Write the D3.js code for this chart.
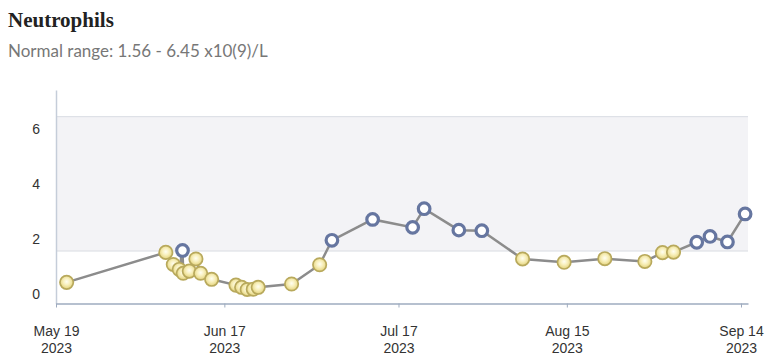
<!DOCTYPE html>
<html>
<head>
<meta charset="utf-8">
<script src="https://cdn.jsdelivr.net/npm/d3@7"></script>
<style>
  body { margin: 0; background: #fff; }
  svg { display: block; }
</style>
</head>
<body>
<script>
// Lab results
var dates = ["2023-05-20T20:00", "2023-06-06T22:00", "2023-06-08T05:00", "2023-06-09T05:30",
    "2023-06-09T19:00", "2023-06-09T22:00", "2023-06-10T23:00", "2023-06-12T02:30",
    "2023-06-12T22:00", "2023-06-14T19:30", "2023-06-19T00:00", "2023-06-19T23:30",
    "2023-06-20T22:30", "2023-06-21T23:30", "2023-06-22T20:00", "2023-06-28T14:00",
    "2023-07-03T10:00", "2023-07-05T12:45", "2023-07-12T13:00", "2023-07-19T10:30",
    "2023-07-21T10:00", "2023-07-27T09:30", "2023-07-31T08:30", "2023-08-07T09:00",
    "2023-08-14T12:45", "2023-08-21T13:00", "2023-08-28T10:30", "2023-08-31T11:30",
    "2023-09-02T09:00", "2023-09-06T09:00", "2023-09-08T16:00", "2023-09-11T16:00",
    "2023-09-14T17:00"];
var values = [0.42, 1.51, 1.07, 0.89, 1.58, 0.75, 0.83, 1.27, 0.75, 0.53, 0.32, 0.24, 0.16, 0.17,
    0.24, 0.36, 1.06, 1.95, 2.71, 2.42, 3.10, 2.32, 2.30, 1.27, 1.15, 1.28, 1.18, 1.50, 1.52,
    1.88, 2.09, 1.89, 2.91];
var normalRange = [1.56, 6.45];
var xTicks = ["2023-05-19", "2023-06-17", "2023-07-17", "2023-08-15", "2023-09-14"];
var yTicks = [0, 2, 4, 6];

var width = 768, height = 364;
var parse = d3.timeParse("%Y-%m-%dT%H:%M");
var parseDay = d3.timeParse("%Y-%m-%d");

var data = dates.map(function (d, i) { return { date: parse(d), value: values[i] }; });

var svg = d3.select("body").append("svg")
    .attr("width", width)
    .attr("height", height);

// Title + subtitle
svg.append("text")
    .attr("x", 8).attr("y", 27)
    .attr("font-family", "Liberation Serif, serif")
    .attr("font-weight", "bold")
    .attr("font-size", "21px")
    .attr("fill", "#222")
    .text("Neutrophils");

svg.append("text")
    .attr("x", 8).attr("y", 57)
    .attr("font-family", "Lato, sans-serif")
    .attr("font-size", "17px")
    .attr("fill", "#777")
    .text("Normal range: " + normalRange[0] + " - " + normalRange[1] + " x10(9)/L");

// Scales
var x = d3.scaleTime()
    .domain([parseDay("2023-05-19"), parse("2023-09-15T05:00")])
    .range([56, 748]);

var y = d3.scaleLinear()
    .domain([-0.35, 7.42])
    .range([303.5, 90]);

// Normal range band
var band = svg.append("g");
band.append("rect")
    .attr("x", x.range()[0])
    .attr("y", y(normalRange[1]))
    .attr("width", x.range()[1] - x.range()[0])
    .attr("height", y(normalRange[0]) - y(normalRange[1]))
    .attr("fill", "#f3f3f6");
band.selectAll("line")
    .data(normalRange)
    .enter().append("line")
    .attr("x1", x.range()[0])
    .attr("x2", x.range()[1])
    .attr("y1", function (d) { return y(d); })
    .attr("y2", function (d) { return y(d); })
    .attr("stroke", "#d9dce3")
    .attr("stroke-width", 1);

// Y axis (line only, no ticks)
var yAxis = d3.axisLeft(y).tickValues(yTicks).tickSize(0).tickPadding(16);
svg.append("g")
    .attr("transform", "translate(56,0)")
    .call(yAxis)
    .call(function (g) {
        g.select(".domain").attr("stroke", "#c5cdd9").attr("stroke-width", 1.5);
        g.selectAll("text")
            .attr("font-family", "Liberation Sans, Arial, sans-serif")
            .attr("font-size", "14px")
            .attr("fill", "#333");
    });

// X axis
var xAxis = d3.axisBottom(x)
    .tickValues(xTicks.map(parseDay))
    .tickSize(4)
    .tickSizeOuter(0)
    .tickFormat("");
var xg = svg.append("g")
    .attr("transform", "translate(0," + y.range()[0] + ")")
    .call(xAxis);
xg.select(".domain").attr("stroke", "#9eabbf").attr("stroke-width", 1.5);
xg.selectAll(".tick line").attr("stroke", "#9eabbf");

// two-line date labels, month/day above the year
var fmtTop = d3.timeFormat("%b %-d"), fmtBottom = d3.timeFormat("%Y");
xg.selectAll(".tick").each(function (d) {
    var tick = d3.select(this);
    [[fmtTop(d), 32.5], [fmtBottom(d), 49]].forEach(function (p) {
        tick.append("text")
            .attr("x", 0).attr("y", p[1])
            .attr("text-anchor", "middle")
            .attr("font-family", "Liberation Sans, Arial, sans-serif")
            .attr("font-size", "14px")
            .attr("fill", "#333")
            .text(p[0]);
    });
});

// Point gradient for the out-of-range markers
var defs = svg.append("defs");
var grad = defs.append("radialGradient").attr("id", "lowGrad")
    .attr("cx", "50%").attr("cy", "45%").attr("r", "55%");
grad.append("stop").attr("offset", "0%").attr("stop-color", "#fffef2");
grad.append("stop").attr("offset", "45%").attr("stop-color", "#f8f0bd");
grad.append("stop").attr("offset", "100%").attr("stop-color", "#e3d27a");

// Line
var line = d3.line()
    .x(function (d) { return x(d.date); })
    .y(function (d) { return y(d.value); });

svg.append("path")
    .datum(data)
    .attr("d", line)
    .attr("fill", "none")
    .attr("stroke", "#8c8c8c")
    .attr("stroke-width", 2.5);

// Points
function inRange(v) { return v >= normalRange[0] && v <= normalRange[1]; }

svg.append("g").selectAll("circle")
    .data(data)
    .enter().append("circle")
    .attr("cx", function (d) { return x(d.date); })
    .attr("cy", function (d) { return y(d.value); })
    .attr("r", function (d) { return inRange(d.value) ? 5.8 : 6.7; })
    .attr("fill", function (d) { return inRange(d.value) ? "#fff" : "url(#lowGrad)"; })
    .attr("stroke", function (d) { return inRange(d.value) ? "#6676a0" : "#b8a95c"; })
    .attr("stroke-width", function (d) { return inRange(d.value) ? 3.2 : 1.7; });
</script>
</body>
</html>
